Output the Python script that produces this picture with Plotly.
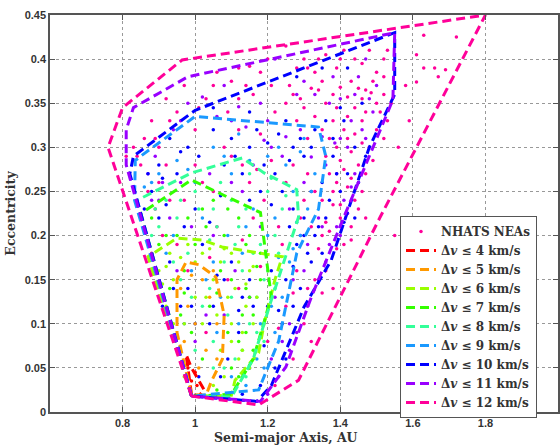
import plotly.graph_objects as go

# ---------------- data ----------------
x_ticks = [0.8, 1.0, 1.2, 1.4, 1.6, 1.8, 2.0]
x_tick_text = ["0.8", "1", "1.2", "1.4", "1.6", "1.8", "2"]
y_ticks = [0, 0.05, 0.1, 0.15, 0.2, 0.25, 0.3, 0.35, 0.4, 0.45]
y_tick_text = ["0", "0.05", "0.1", "0.15", "0.2", "0.25", "0.3", "0.35", "0.4", "0.45"]

levels = [4, 5, 6, 7, 8, 9, 10, 11, 12]
level_colors = ["#ff0000", "#ff9900", "#99ff00", "#33ff00", "#33ff99",
                "#1a99ff", "#0000ff", "#9900ff", "#ff0099"]

# NEA points grouped by the lowest delta-v level they belong to (a, e)
neas_dv4 = [(0.98, 0.05), (0.99, 0.035), (1.005, 0.03), (1.0, 0.045)]
neas_dv5 = [(0.96, 0.14), (0.98, 0.12), (1.00, 0.10), (1.02, 0.15), (1.04, 0.13), (1.06, 0.10),
            (1.03, 0.07), (1.01, 0.05), (0.97, 0.08), (1.05, 0.16), (0.99, 0.155), (1.06, 0.06)]
neas_dv6 = [(0.90, 0.16), (0.93, 0.18), (0.98, 0.19), (1.02, 0.18), (1.08, 0.185), (1.12, 0.17),
            (1.15, 0.16), (1.17, 0.13), (1.14, 0.12), (1.10, 0.10), (1.12, 0.06), (1.08, 0.04),
            (0.92, 0.12), (0.95, 0.07), (0.94, 0.15), (1.05, 0.15), (1.09, 0.13), (1.11, 0.14),
            (1.13, 0.09), (1.07, 0.07), (1.05, 0.03), (0.97, 0.04), (1.15, 0.05), (1.02, 0.10),
            (1.00, 0.13), (1.06, 0.11), (0.91, 0.145), (1.16, 0.165),
            (0.92, 0.165), (0.96, 0.175), (1.00, 0.17), (1.04, 0.185), (1.10, 0.18), (1.14, 0.145),
            (1.16, 0.10), (1.10, 0.08), (1.03, 0.13), (0.97, 0.10), (1.07, 0.17), (1.13, 0.07),
            (1.09, 0.02), (0.94, 0.10)]
neas_dv7 = [(0.88, 0.22), (0.92, 0.20), (0.98, 0.22), (1.05, 0.24), (1.12, 0.22), (1.15, 0.20),
            (1.18, 0.18), (1.18, 0.15), (1.16, 0.11), (1.12, 0.08), (1.12, 0.04), (1.06, 0.025),
            (0.93, 0.14), (0.97, 0.16), (1.03, 0.21), (1.08, 0.20), (1.14, 0.14), (1.09, 0.09),
            (1.02, 0.06), (0.96, 0.11), (1.10, 0.15), (1.16, 0.07), (1.00, 0.19), (1.06, 0.135),
            (0.90, 0.19), (0.95, 0.20), (1.02, 0.23), (1.09, 0.23), (1.14, 0.19), (1.17, 0.165),
            (1.15, 0.13), (1.13, 0.11), (1.07, 0.16), (1.04, 0.12), (0.99, 0.09), (0.97, 0.135),
            (1.10, 0.05), (1.14, 0.09)]
neas_dv8 = [(1.15, 0.27), (1.20, 0.25), (1.24, 0.23), (1.22, 0.20), (1.18, 0.19), (1.20, 0.16),
            (1.17, 0.13), (1.15, 0.10), (1.13, 0.07), (1.08, 0.05), (1.05, 0.08), (1.02, 0.12),
            (0.98, 0.18), (0.95, 0.22), (0.90, 0.21), (0.88, 0.20), (1.05, 0.23), (1.10, 0.24),
            (1.12, 0.21), (1.08, 0.17), (1.13, 0.16), (1.00, 0.25), (0.92, 0.24), (1.19, 0.08),
            (1.04, 0.195), (0.96, 0.15), (1.10, 0.13), (1.14, 0.04), (1.00, 0.07), (1.07, 0.26),
            (1.22, 0.14),
            (1.21, 0.265), (1.25, 0.245), (1.23, 0.18), (1.19, 0.15), (1.16, 0.18), (1.11, 0.19),
            (1.06, 0.21), (1.01, 0.23), (0.96, 0.24), (0.89, 0.23), (0.94, 0.17), (0.99, 0.13),
            (1.04, 0.14), (1.09, 0.11), (1.11, 0.06), (1.17, 0.09), (1.05, 0.05), (1.14, 0.23)]
neas_dv9 = [(0.90, 0.27), (0.95, 0.285), (1.05, 0.30), (1.12, 0.315), (1.20, 0.29), (1.25, 0.28),
            (1.30, 0.31), (1.33, 0.27), (1.31, 0.23), (1.28, 0.215), (1.26, 0.17), (1.24, 0.13),
            (1.22, 0.09), (1.19, 0.05), (1.14, 0.03), (0.86, 0.255), (1.00, 0.26), (1.10, 0.27),
            (1.16, 0.23), (1.09, 0.20), (1.03, 0.15), (1.13, 0.18), (1.18, 0.10), (1.10, 0.04),
            (0.94, 0.20), (1.27, 0.25), (1.22, 0.22), (0.97, 0.10), (1.07, 0.13),
            (0.88, 0.26), (0.98, 0.275), (1.08, 0.29), (1.15, 0.285), (1.23, 0.30), (1.29, 0.295),
            (1.32, 0.25), (1.29, 0.20), (1.27, 0.185), (1.23, 0.175), (1.20, 0.20), (1.14, 0.21),
            (1.05, 0.17), (0.99, 0.16), (1.12, 0.10), (1.17, 0.06), (1.06, 0.09), (0.92, 0.18),
            (1.02, 0.22), (1.21, 0.12)]
neas_dv10 = [(1.05, 0.32), (1.10, 0.31), (1.15, 0.30), (1.20, 0.305), (1.27, 0.30), (1.30, 0.29),
             (0.90, 0.28), (0.95, 0.27), (0.88, 0.25), (0.86, 0.23), (0.90, 0.22), (1.00, 0.23),
             (1.07, 0.245), (1.13, 0.27), (1.22, 0.27), (1.24, 0.25), (1.30, 0.22), (1.33, 0.20),
             (1.35, 0.18), (1.32, 0.17), (1.29, 0.14), (1.27, 0.12), (1.24, 0.10), (1.25, 0.06),
             (1.22, 0.05), (1.20, 0.12), (1.15, 0.15), (1.10, 0.17), (1.05, 0.12), (1.00, 0.10),
             (0.98, 0.14), (1.02, 0.19), (1.12, 0.09), (1.15, 0.05), (1.18, 0.03), (0.93, 0.17),
             (0.91, 0.12), (1.28, 0.19), (1.26, 0.21), (1.18, 0.25), (1.08, 0.28), (0.98, 0.30),
             (0.93, 0.31), (1.35, 0.26), (1.38, 0.29), (1.42, 0.27), (1.45, 0.26), (1.47, 0.29),
             (1.37, 0.24), (1.40, 0.25), (1.36, 0.33), (1.40, 0.345), (1.33, 0.32), (1.25, 0.33),
             (1.15, 0.34), (1.05, 0.345), (1.28, 0.38), (1.35, 0.39), (1.42, 0.39), (1.46, 0.35),
             (1.44, 0.22), (1.32, 0.25), (1.06, 0.155), (1.12, 0.115), (0.96, 0.12), (1.09, 0.06),
             (1.01, 0.04),
             (1.17, 0.32), (1.23, 0.315), (1.29, 0.31), (1.32, 0.30), (1.26, 0.285), (1.19, 0.28),
             (1.11, 0.29), (1.01, 0.29), (0.96, 0.295), (0.91, 0.265), (0.87, 0.27), (0.92, 0.235),
             (0.97, 0.21), (1.04, 0.215), (1.15, 0.24), (1.21, 0.235), (1.27, 0.23), (1.30, 0.20),
             (1.34, 0.21), (1.31, 0.18), (1.27, 0.165), (1.25, 0.15), (1.21, 0.16), (1.23, 0.115),
             (1.19, 0.075), (1.16, 0.12), (1.13, 0.13), (1.08, 0.15), (1.04, 0.10), (0.99, 0.12),
             (0.94, 0.14), (1.07, 0.04), (1.13, 0.02), (1.39, 0.27), (1.36, 0.22), (1.41, 0.215),
             (1.44, 0.30), (1.41, 0.33), (1.38, 0.31)]
neas_dv11 = [(1.02, 0.357), (1.12, 0.346), (1.14, 0.323), (1.19, 0.308), (1.21, 0.30), (1.25, 0.312),
             (1.32, 0.289), (1.35, 0.312), (1.385, 0.305), (1.22, 0.40), (1.08, 0.37), (0.98, 0.35),
             (0.94, 0.32), (0.89, 0.29), (0.87, 0.27), (0.90, 0.24), (1.30, 0.375), (1.38, 0.38),
             (1.45, 0.38), (1.49, 0.34), (1.47, 0.31), (1.42, 0.30), (1.44, 0.27), (1.41, 0.24),
             (1.39, 0.21), (1.37, 0.19), (1.42, 0.225), (1.36, 0.17), (1.34, 0.15), (1.31, 0.12),
             (1.28, 0.09), (1.26, 0.07), (1.23, 0.04), (1.20, 0.02), (1.29, 0.20), (1.26, 0.23),
             (1.18, 0.21), (1.10, 0.26), (1.04, 0.27), (0.96, 0.26), (1.22, 0.13), (1.15, 0.13),
             (1.08, 0.11), (0.99, 0.21), (0.93, 0.22), (1.30, 0.26), (1.34, 0.22), (1.43, 0.33),
             (1.37, 0.35), (1.28, 0.36), (1.18, 0.35), (1.10, 0.33), (1.20, 0.33), (1.50, 0.37),
             (1.47, 0.40),
             (1.33, 0.36), (1.40, 0.355), (1.44, 0.36), (1.48, 0.355), (1.46, 0.32), (1.40, 0.31),
             (1.36, 0.28), (1.39, 0.27), (1.43, 0.255), (1.40, 0.20), (1.35, 0.21), (1.31, 0.19),
             (1.30, 0.16), (1.27, 0.15), (1.26, 0.10), (1.24, 0.08), (1.21, 0.06), (1.16, 0.28),
             (1.24, 0.29), (1.29, 0.32), (1.06, 0.335), (0.96, 0.33), (0.91, 0.26), (0.88, 0.24),
             (1.13, 0.25), (1.05, 0.20), (1.11, 0.16), (0.95, 0.16), (1.00, 0.08), (1.03, 0.11)]
neas_dv12 = [(1.06, 0.385), (1.12, 0.39), (1.15, 0.392), (1.20, 0.40), (1.25, 0.415), (1.28, 0.39),
             (1.30, 0.40), (1.33, 0.385), (1.36, 0.405), (1.39, 0.39), (1.41, 0.41), (1.44, 0.40),
             (1.46, 0.395), (1.48, 0.41), (1.50, 0.385), (1.52, 0.40),
             (1.58, 0.37), (1.61, 0.374), (1.61, 0.405), (1.63, 0.427), (1.63, 0.39), (1.66, 0.39),
             (1.67, 0.38), (1.69, 0.388), (1.72, 0.425), (1.59, 0.33), (1.56, 0.30), (1.55, 0.20),
             (1.03, 0.355), (1.05, 0.37), (1.12, 0.355), (1.16, 0.36), (1.21, 0.37), (1.25, 0.35),
             (1.27, 0.36), (1.30, 0.345), (1.32, 0.367), (1.34, 0.365), (1.36, 0.35), (1.40, 0.368),
             (1.42, 0.357), (1.44, 0.345), (1.45, 0.367), (1.47, 0.365), (1.485, 0.362), (1.50, 0.35),
             (1.52, 0.36), (0.97, 0.37), (0.92, 0.355), (0.95, 0.34),
             (0.86, 0.31), (0.88, 0.33), (0.90, 0.30), (1.00, 0.32), (1.08, 0.30), (1.12, 0.32),
             (1.18, 0.315), (1.22, 0.34), (1.28, 0.33), (1.33, 0.335), (1.37, 0.31), (1.38, 0.33),
             (1.39, 0.30), (1.40, 0.285), (1.41, 0.32), (1.43, 0.295), (1.44, 0.315), (1.45, 0.28),
             (1.46, 0.33), (1.48, 0.30), (1.50, 0.32), (1.52, 0.31),
             (0.85, 0.28), (0.87, 0.25), (0.90, 0.26), (0.97, 0.24), (1.05, 0.25), (1.15, 0.26),
             (1.25, 0.26), (1.27, 0.28), (1.30, 0.24), (1.31, 0.27), (1.33, 0.25), (1.35, 0.20),
             (1.36, 0.215), (1.37, 0.27), (1.38, 0.235), (1.39, 0.26), (1.40, 0.22), (1.41, 0.19),
             (1.42, 0.255), (1.43, 0.21), (1.44, 0.24), (1.46, 0.25), (1.47, 0.22),
             (1.24, 0.19), (1.28, 0.16), (1.25, 0.12), (1.20, 0.08), (1.36, 0.16), (1.30, 0.10),
             (1.35, 0.135), (1.32, 0.08), (0.95, 0.19), (1.06, 0.21), (1.10, 0.29), (1.00, 0.28),
             (0.83, 0.30), (0.81, 0.29), (1.16, 0.22), (1.12, 0.14), (0.98, 0.16), (1.03, 0.09),
             (1.26, 0.37), (1.29, 0.355), (1.31, 0.39), (1.35, 0.375), (1.38, 0.36), (1.43, 0.375),
             (1.46, 0.355), (1.49, 0.375), (1.51, 0.34), (1.53, 0.33), (1.47, 0.34), (1.42, 0.335),
             (1.39, 0.345), (1.35, 0.32), (1.31, 0.31), (1.36, 0.29), (1.42, 0.31), (1.46, 0.305),
             (1.49, 0.285), (1.47, 0.27), (1.43, 0.265), (1.41, 0.275), (1.38, 0.25), (1.35, 0.24),
             (1.40, 0.235), (1.45, 0.23), (1.43, 0.195), (1.39, 0.185), (1.37, 0.205), (1.34, 0.185),
             (1.32, 0.21), (1.29, 0.22), (1.33, 0.15), (1.38, 0.14), (1.31, 0.14), (1.27, 0.135),
             (1.23, 0.095), (1.27, 0.06), (1.22, 0.03), (1.17, 0.275), (1.13, 0.28), (1.21, 0.285),
             (1.09, 0.34), (1.14, 0.37), (1.01, 0.345), (0.93, 0.33), (0.89, 0.31), (0.84, 0.29),
             (0.92, 0.28), (1.02, 0.26), (1.19, 0.24), (1.23, 0.21), (1.13, 0.195), (1.09, 0.15),
             (1.04, 0.175), (0.93, 0.24), (0.89, 0.23), (0.88, 0.18), (0.91, 0.20), (1.18, 0.165),
             (1.52, 0.38), (1.54, 0.35), (1.53, 0.41), (1.40, 0.40), (1.34, 0.40), (1.18, 0.385),
             (1.10, 0.375)]

# Boundary (hull) of each delta-v level (a, e)
hull_dv4 = [(0.99, 0.02), (0.975, 0.065), (0.99, 0.05), (1.01, 0.035), (1.025, 0.025),
            (1.01, 0.018), (0.99, 0.02)]
hull_dv5 = [(0.99, 0.02), (0.95, 0.09), (0.95, 0.15), (0.975, 0.17), (1.01, 0.167), (1.057, 0.153),
            (1.08, 0.11), (1.075, 0.06), (1.045, 0.035), (1.03, 0.019), (0.99, 0.02)]
hull_dv6 = [(0.99, 0.018), (0.87, 0.176), (0.95, 0.197), (1.02, 0.195), (1.074, 0.187),
            (1.24, 0.176), (1.22, 0.15), (1.19, 0.10), (1.175, 0.067), (1.11, 0.036),
            (1.10, 0.019), (0.99, 0.018)]
hull_dv7 = [(0.99, 0.018), (0.85, 0.225), (0.99, 0.263), (1.18, 0.226), (1.21, 0.13),
            (1.16, 0.06), (1.10, 0.02), (0.99, 0.018)]
hull_dv8 = [(0.99, 0.018), (0.84, 0.24), (0.99, 0.271), (1.13, 0.288), (1.19, 0.271),
            (1.28, 0.252), (1.285, 0.221), (1.21, 0.127), (1.16, 0.06), (1.10, 0.017), (0.99, 0.018)]
hull_dv9 = [(0.99, 0.018), (0.833, 0.24), (0.835, 0.285), (0.85, 0.29), (1.0, 0.335), (1.34, 0.323),
            (1.36, 0.29), (1.34, 0.23), (1.28, 0.18), (1.23, 0.08), (1.175, 0.025), (0.99, 0.018)]
hull_dv10 = [(0.99, 0.018), (0.82, 0.27), (0.83, 0.29), (1.0, 0.342), (1.55, 0.43), (1.55, 0.36),
             (1.48, 0.30), (1.43, 0.24), (1.375, 0.172), (1.30, 0.119), (1.21, 0.03),
             (1.17, 0.012), (0.99, 0.018)]
hull_dv11 = [(0.99, 0.018), (0.81, 0.28), (0.81, 0.32), (0.83, 0.345), (0.98, 0.38), (1.55, 0.43),
             (1.545, 0.354), (1.41, 0.221), (1.32, 0.13), (1.25, 0.051), (1.18, 0.012), (0.99, 0.018)]
hull_dv12 = [(0.99, 0.018), (0.76, 0.30), (0.80, 0.345), (0.964, 0.399), (1.80, 0.45),
             (1.51, 0.221), (1.285, 0.036), (1.175, 0.008), (0.99, 0.018)]

neas_by_level = [neas_dv4, neas_dv5, neas_dv6, neas_dv7, neas_dv8,
                 neas_dv9, neas_dv10, neas_dv11, neas_dv12]
hulls = [hull_dv4, hull_dv5, hull_dv6, hull_dv7, hull_dv8,
         hull_dv9, hull_dv10, hull_dv11, hull_dv12]

# ---------------- figure ----------------
fig = go.Figure()

# dots (outer levels first so inner colours are on top); legend entry for magenta only
for lvl, pts, col in reversed(list(zip(levels, neas_by_level, level_colors))):
    fig.add_trace(go.Scatter(
        x=[p[0] for p in pts], y=[p[1] for p in pts],
        mode="markers",
        marker=dict(color=col, size=3.5, line=dict(width=0)),
        name="NHATS NEAs",
        showlegend=(lvl == 12),
        legendrank=1,
        hoverinfo="skip",
    ))

for i, (lvl, hull, col) in enumerate(zip(levels, hulls, level_colors)):
    fig.add_trace(go.Scatter(
        x=[p[0] for p in hull], y=[p[1] for p in hull],
        mode="lines",
        line=dict(color=col, width=3, dash="9px,5px"),
        name="Δ<i>v</i> ≤ %d km/s" % lvl,
        legendrank=10 + i,
        hoverinfo="skip",
    ))

tick_font = dict(family="Liberation Sans, Arial, sans-serif", size=11, color="#333333", weight="bold")
title_font = dict(family="DejaVu Serif, Liberation Serif, serif", size=12.5, color="#333333", weight="bold")

fig.update_layout(
    width=560, height=445,
    margin=dict(l=50, r=2, t=15, b=33),
    paper_bgcolor="white", plot_bgcolor="white",
    showlegend=True,
    legend=dict(
        x=0.689, y=0.494, xanchor="left", yanchor="top",
        bgcolor="white", bordercolor="#555555", borderwidth=1,
        font=dict(family="DejaVu Serif, Liberation Serif, serif", size=12, color="#333333", weight="bold"),
        itemwidth=30, tracegroupgap=0,
    ),
    annotations=[dict(
        text="Semi-major Axis, AU", xref="paper", yref="paper",
        x=0.465, y=-0.063, xanchor="center", yanchor="middle",
        showarrow=False, font=title_font,
    )],
)

fig.update_xaxes(
    range=[0.6, 2.0], tickvals=x_ticks, ticktext=x_tick_text,
    showgrid=True, gridcolor="#999999", griddash="dot", gridwidth=1,
    showline=True, linecolor="#555555", linewidth=1.5, mirror="allticks",
    ticks="inside", ticklen=5, tickcolor="#555555",
    zeroline=False, tickfont=tick_font, automargin=False,
)
fig.update_yaxes(
    range=[0, 0.45], tickvals=y_ticks, ticktext=y_tick_text,
    showgrid=True, gridcolor="#999999", griddash="dot", gridwidth=1,
    showline=True, linecolor="#555555", linewidth=1.5, mirror="allticks",
    ticks="inside", ticklen=5, tickcolor="#555555",
    zeroline=False, tickfont=tick_font, automargin=False,
    title=dict(text="Eccentricity", font=title_font, standoff=6),
)

fig.write_html("out.html", config={"displayModeBar": False},
               post_script="document.body.style.margin='0';")
